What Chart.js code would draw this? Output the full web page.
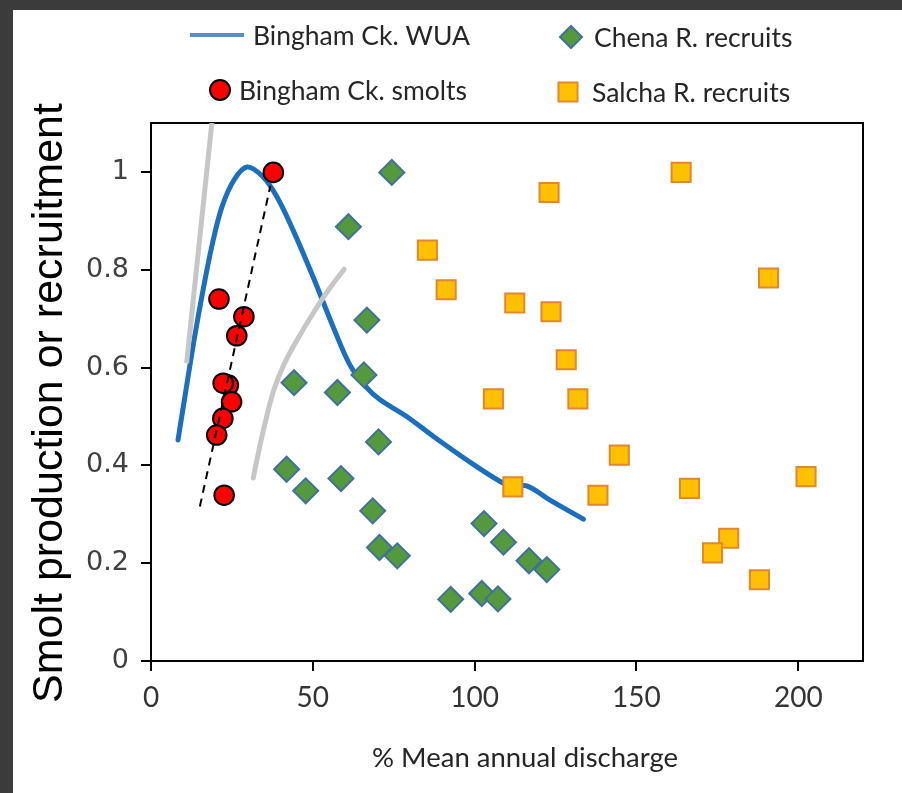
<!DOCTYPE html>
<html>
<head>
<meta charset="utf-8">
<script src="https://cdn.jsdelivr.net/npm/chart.js@4.4.1/dist/chart.umd.min.js"></script>
<style>
  html, body { margin: 0; padding: 0; width: 902px; height: 793px; overflow: hidden; background: #3b3b3b; }
  #wrap { position: absolute; left: 13px; top: 10px; width: 889px; height: 783px; background: #fff; }
</style>
</head>
<body>
<div id="wrap"><canvas id="chart"></canvas></div>
<script>
// Bingham Ck. weighted usable area curve
var wuaX = [8.35, 10.8, 13.3, 16.1, 18.9, 21.9, 25.7, 29.7, 34.6, 38.9, 43.9, 50.1, 56.3, 61.5, 66.5, 70.8, 79.0, 87.3, 97.6, 107.9, 112.0, 116.1, 123.3, 133.6];
var wuaY = [0.452, 0.554, 0.656, 0.759, 0.851, 0.928, 0.984, 1.01, 0.99, 0.949, 0.881, 0.785, 0.683, 0.605, 0.56, 0.534, 0.5, 0.459, 0.411, 0.367, 0.356, 0.358, 0.329, 0.29];

// grey guide curves
var grey1X = [11.0, 18.8];
var grey1Y = [0.609, 1.1];
var grey2X = [31.6, 33.0, 35.2, 38.0, 41.0, 45.0, 50.0, 55.0, 59.7];
var grey2Y = [0.374, 0.42, 0.485, 0.555, 0.605, 0.655, 0.71, 0.76, 0.801];

// dashed trend through smolts
var trendX = [15.1, 36.9];
var trendY = [0.316, 0.972];

var smoltX = [37.8, 21.0, 28.7, 26.5, 23.9, 22.3, 24.9, 22.2, 20.3, 22.6];
var smoltY = [0.999, 0.74, 0.704, 0.665, 0.564, 0.568, 0.53, 0.496, 0.462, 0.339];

var chenaX = [74.4, 61.0, 66.7, 65.8, 44.2, 57.6, 70.3, 41.9, 47.8, 58.7, 68.5, 70.6, 76.1, 92.6, 102.9, 108.9, 116.8, 122.3, 102.2, 107.2];
var chenaY = [0.999, 0.888, 0.697, 0.585, 0.569, 0.549, 0.448, 0.392, 0.348, 0.373, 0.307, 0.232, 0.215, 0.126, 0.281, 0.243, 0.205, 0.187, 0.138, 0.127];

var salchaX = [123.0, 163.8, 85.4, 91.2, 112.4, 123.6, 190.8, 128.3, 105.8, 131.9, 111.8, 144.7, 138.1, 166.4, 202.4, 178.5, 173.5, 188.0];
var salchaY = [0.958, 0.999, 0.84, 0.759, 0.732, 0.714, 0.783, 0.616, 0.536, 0.536, 0.356, 0.421, 0.339, 0.353, 0.377, 0.251, 0.221, 0.166];

var xTicks = [0, 50, 100, 150, 200];
var yTicks = [0, 0.2, 0.4, 0.6, 0.8, 1];
var yTickLabels = ["0", "0.2", "0.4", "0.6", "0.8", "1"];
var xTitle = "% Mean annual discharge";
var yTitle = "Smolt production or recruitment";

function pts(xs, ys) {
    return xs.map((x, i) => ({x: x, y: ys[i]}));
}

// where the 2x2 legend goes (canvas px)
var legendSlots = [
    {index: 0, x: 205, y: 25, r: 0, tx: 240},
    {index: 5, x: 558, y: 27, r: 11, tx: 581},
    {index: 4, x: 207, y: 80, r: 10, tx: 226},
    {index: 6, x: 555, y: 82, r: 13.5, tx: 579},
];

var legendPlugin = {
    id: "cornerLegend",
    afterDraw: function(chart) {
        var ctx = chart.ctx;
        ctx.save();
        ctx.font = "26.5px Lato";
        ctx.textBaseline = "middle";
        legendSlots.forEach(function(slot) {
            var ds = chart.data.datasets[slot.index];
            if (slot.r == 0) {
                ctx.strokeStyle = "#5b8bd0";
                ctx.lineWidth = 4;
                ctx.beginPath();
                ctx.moveTo(slot.x - 28, slot.y);
                ctx.lineTo(slot.x + 26, slot.y);
                ctx.stroke();
            } else {
                ctx.fillStyle = ds.backgroundColor;
                ctx.strokeStyle = ds.borderColor;
                ctx.lineWidth = ds.borderWidth;
                Chart.helpers.drawPoint(ctx, {pointStyle: ds.pointStyle, radius: slot.r, borderWidth: ds.borderWidth, rotation: 0}, slot.x, slot.y);
            }
            ctx.fillStyle = "#262626";
            ctx.fillText(ds.label, slot.tx, slot.y + 1);
        });
        ctx.restore();
    }
};

// frame round the plot + axis titles (a bit off-centre like the original)
var framePlugin = {
    id: "frame",
    beforeDatasetsDraw: function(chart) {
        var a = chart.chartArea;
        var ctx = chart.ctx;
        ctx.save();
        ctx.strokeStyle = "#000";
        ctx.lineWidth = 2;
        ctx.strokeRect(a.left, a.top, a.right - a.left, a.bottom - a.top);
        ctx.textAlign = "center";
        ctx.textBaseline = "middle";
        ctx.font = "27.5px Lato";
        ctx.fillStyle = "#262626";
        ctx.fillText(xTitle, 512, 748);
        ctx.translate(37, 393);
        ctx.rotate(-Math.PI / 2);
        ctx.font = "43px 'Liberation Sans'";
        ctx.fillStyle = "#000";
        ctx.fillText(yTitle, 0, 0);
        ctx.restore();
    }
};

var chart = new Chart(document.getElementById("chart"), {
    type: "scatter",
    data: {
        datasets: [
        {
            type: "line",
            label: "Bingham Ck. WUA",
            data: pts(wuaX, wuaY),
            borderColor: "#1b6fc0",
            borderWidth: 5,
            borderCapStyle: "round",
            borderJoinStyle: "round",
            pointRadius: 0,
            tension: 0.35,
            fill: false,
            order: 7,
        },
        {
            type: "line",
            label: "grey1",
            data: pts(grey1X, grey1Y),
            borderColor: "#c6c6c6",
            borderWidth: 5,
            pointRadius: 0,
            fill: false,
            order: 6,
        },
        {
            type: "line",
            label: "grey2",
            data: pts(grey2X, grey2Y),
            borderColor: "#c6c6c6",
            borderWidth: 5,
            borderCapStyle: "round",
            pointRadius: 0,
            tension: 0.4,
            fill: false,
            order: 6,
        },
        {
            type: "line",
            label: "trend",
            data: pts(trendX, trendY),
            borderColor: "#000",
            borderWidth: 2,
            borderDash: [8, 6],
            pointRadius: 0,
            fill: false,
            order: 4,
        },
        {
            label: "Bingham Ck. smolts",
            data: pts(smoltX, smoltY),
            pointStyle: "circle",
            pointRadius: 9.8,
            backgroundColor: "#ff0000",
            borderColor: "#000",
            borderWidth: 2,
            order: 5,
        },
        {
            label: "Chena R. recruits",
            data: pts(chenaX, chenaY),
            pointStyle: "rectRot",
            pointRadius: 12.5,
            backgroundColor: "#549a3c",
            borderColor: "#41709e",
            borderWidth: 2,
            order: 3,
        },
        {
            label: "Salcha R. recruits",
            data: pts(salchaX, salchaY),
            pointStyle: "rect",
            pointRadius: 13.5,
            backgroundColor: "#ffc000",
            borderColor: "#e4862c",
            borderWidth: 2,
            order: 2,
        },
        ]
    },
    options: {
        animation: false,
        responsive: true,
        maintainAspectRatio: false,
        layout: {
            padding: {top: 113, right: 39, left: 0, bottom: 0},
        },
        scales: {
            x: {
                type: "linear",
                min: 0,
                max: 220,
                afterBuildTicks: (s) => { s.ticks = xTicks.map(v => ({value: v})); },
                afterFit: (s) => { s.height = 132; },
                grid: {
                    drawOnChartArea: false,
                    color: "#000",
                    lineWidth: 2,
                    tickLength: 10,
                },
                border: {color: "#000", width: 2},
                ticks: {
                    padding: 10,
                    color: "#333",
                    font: {family: "Lato", size: 28},
                },
            },
            y: {
                type: "linear",
                min: 0,
                max: 1.1,
                afterBuildTicks: (s) => { s.ticks = yTicks.map(v => ({value: v})); },
                afterFit: (s) => { s.width = 138; },
                grid: {
                    drawOnChartArea: false,
                    color: "#000",
                    lineWidth: 2,
                    tickLength: 10,
                },
                border: {color: "#000", width: 2},
                ticks: {
                    padding: 12,
                    color: "#404040",
                    font: {family: "DejaVu Sans", size: 27},
                    callback: (v, i) => yTickLabels[i],
                },
            }
        },
        plugins: {
            legend: {display: false},
            tooltip: {enabled: false},
        }
    },
    plugins: [framePlugin, legendPlugin],
});
</script>
</body>
</html>
